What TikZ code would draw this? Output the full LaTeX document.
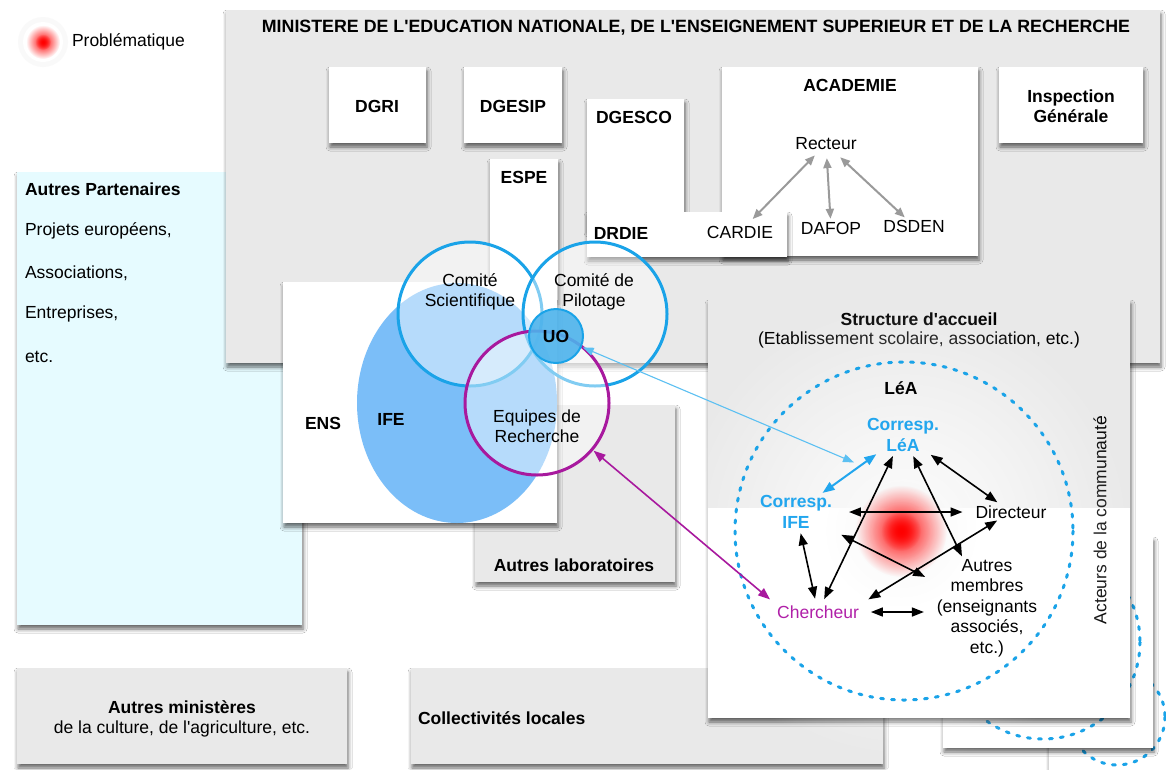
\documentclass[tikz,border=0pt]{standalone}
\usepackage{fontspec}
\setmainfont{Liberation Sans}[Ligatures=TeXOff]
\usetikzlibrary{arrows.meta,shadows.blur,fadings}
\definecolor{boxgray}{HTML}{E9E9E9}
\definecolor{partcyan}{HTML}{E6FBFF}
\definecolor{cblue}{HTML}{1AA3E8}
\definecolor{tblue}{HTML}{22A6EE}
\definecolor{lblue}{HTML}{5CC0F2}
\definecolor{cpurple}{HTML}{A8199E}
\definecolor{tpurple}{HTML}{B020A8}
\definecolor{ifeblue}{HTML}{7BBEF8}
\definecolor{uoblue}{HTML}{4DB3EC}
\definecolor{arrgray}{HTML}{9A9A9A}
\tikzfading[name=glowfade, inner color=transparent!0, outer color=transparent!100]
\begin{document}
\begin{tikzpicture}[x=1pt,y=-1pt,
  every node/.style={font=\fontsize{17.5}{20.5}\selectfont, inner sep=1pt, outer sep=0pt},
  box/.style={fill=white, inner sep=0pt, outer sep=0pt, anchor=north west,
    blur shadow={shadow xshift=1pt, shadow yshift=-4pt, shadow blur radius=4pt, shadow opacity=60}},
  graybox/.style={box, fill=boxgray},
  lbl/.style={font=\fontsize{17.5}{20.5}\selectfont\bfseries},
  ctext/.style={align=center},
  ldash/.style={draw=cblue, line width=3pt, line cap=round, dash pattern=on 3pt off 8pt},
  ring/.style={circle, draw=cblue, line width=3pt, fill=white, fill opacity=0.45, minimum size=144pt, inner sep=0pt},
  garr/.style={draw=arrgray, line width=2pt, {Triangle[length=10pt,width=8pt]}-{Triangle[length=10pt,width=8pt]}},
  dblk/.style={line width=1.6pt, {Triangle[length=12pt,width=9pt]}-{Triangle[length=12pt,width=9pt]}},
  dblue/.style={draw=tblue, line width=2pt, {Triangle[length=12pt,width=9pt]}-{Triangle[length=12pt,width=9pt]}},
  thinblue/.style={draw=lblue, line width=1.1pt, {Triangle[length=11pt,width=8pt]}-{Triangle[length=11pt,width=8pt]}},
  purarr/.style={draw=cpurple, line width=1.6pt, {Triangle[length=12pt,width=9pt]}-{Triangle[length=12pt,width=9pt]}}
]
\useasboundingbox (0,0) rectangle (1166,769);
\fill[white] (0,0) rectangle (1166,769);

% legend
\fill[gray!5] (43,42) circle (25);
\fill[white] (43,42) circle (20);
\fill[red, path fading=glowfade] (43,42) circle (17);
\fill[red, path fading=glowfade] (43,42) circle (8);
\node[anchor=west] (legtxt) at (71,42) {Problématique};

% autres partenaires
\node[box, fill=partcyan, minimum width=285pt, minimum height=453pt] (partners) at (17,172) {};
\node[lbl, anchor=west] (parttitle) at (24,189) {Autres Partenaires};
\node[anchor=west] (p1) at (24,231) {Projets européens,};
\node[anchor=west] (p2) at (24,273) {Associations,};
\node[anchor=west] (p3) at (24,314) {Entreprises,};
\node[anchor=west] (p4) at (24,357) {etc.};

% ministere
\node[graybox, minimum width=934pt, minimum height=353pt] (ministry) at (226,10) {};
\node[lbl, font=\fontsize{17.8}{20.5}\selectfont\bfseries] (mintitle) at (696,28) {MINISTERE DE L'EDUCATION NATIONALE, DE L'ENSEIGNEMENT SUPERIEUR ET DE LA RECHERCHE};

\node[box, minimum width=97pt, minimum height=76pt] (dgri) at (329,67) {};
\node[lbl] (dgritxt) at (377,106) {DGRI};
\node[box, minimum width=98pt, minimum height=76pt] (dgesip) at (464,67) {};
\node[lbl] (dgesiptxt) at (513,106) {DGESIP};
\node[box, minimum width=68pt, minimum height=141pt] (espe) at (490,159) {};
\node[lbl] (espetxt) at (524,177) {ESPE};
\node[box, minimum width=97pt, minimum height=130pt] (dgesco) at (587,99) {};
\node[lbl] (dgescotxt) at (634,117) {DGESCO};
\node[box, minimum width=256pt, minimum height=189pt] (academie) at (722,67) {};
\node[lbl] (academietxt) at (850,85) {ACADEMIE};
\node[box, minimum width=200pt, minimum height=45pt] (drdie) at (587,212) {};
\node[lbl] (drdietxt) at (621,233) {DRDIE};
\node (cardie) at (740,232) {CARDIE};
\node (recteur) at (826,144) {Recteur};
\node (dafop) at (831,228) {DAFOP};
\node (dsden) at (914,226) {DSDEN};
\draw[garr, shorten <=6pt, shorten >=8pt] (recteur) -- (cardie);
\draw[garr, shorten <=7pt, shorten >=2pt] (recteur) -- (dafop);
\draw[garr, shorten <=9pt, shorten >=2pt] (recteur) -- (dsden);
\node[box, minimum width=144pt, minimum height=76pt] (insp) at (999,67) {};
\node[lbl, ctext] (insptxt) at (1071,106) {Inspection\\Générale};

% autres laboratoires
\node[graybox, minimum width=200pt, minimum height=177pt] (autlab) at (475,405) {};
\node[lbl] (autlabtxt) at (574,565) {Autres laboratoires};

% bottom boxes
\node[graybox, minimum width=330pt, minimum height=96pt] (autmin) at (17,668) {};
\node[lbl] (autmintxt) at (182,707) {Autres ministères};
\node (autmintxt2) at (182,729) {de la culture, de l'agriculture, etc.};
\node[graybox, minimum width=472pt, minimum height=96pt] (coll) at (411,668) {};
\node[lbl, anchor=west] (colltxt) at (417,718) {Collectivités locales};

% stacked LeA boxes
\node[box, minimum width=150pt, minimum height=160pt] (box3) at (1049,645) {};
\draw[ldash] (1117,717) circle (48);
\node[box, minimum width=210pt, minimum height=211pt] (box2) at (943,537) {};
\draw[ldash] (1043,642) circle (97);

% structure d'accueil
\node[box, minimum width=422pt, minimum height=418pt] (structure) at (708,300) {};
\fill[boxgray] (708,300) rectangle (1130,508);
\node[lbl] (structtxt) at (919,319) {Structure d'accueil};
\node (structtxt2) at (919,340) {(Etablissement scolaire, association, etc.)};
\node[rotate=90] (acteurs) at (1100,520) {Acteurs de la communauté};

% LeA
\fill[white, path fading=glowfade] (904,531) circle (230);
\fill[gray!6, path fading=glowfade] (901,531) circle (75);
\fill[white, path fading=glowfade] (901,531) circle (50);
\fill[red, path fading=glowfade] (901,531) circle (46);
\fill[red, path fading=glowfade] (901,531) circle (20);
\draw[ldash] (904,531) circle (169);
\node[lbl] (leatxt) at (901,388) {LéA};
\node[lbl, ctext, text=tblue] (corlea) at (903,435) {Corresp.\\LéA};
\node[lbl, ctext, text=tblue] (corife) at (796,512) {Corresp.\\IFE};
\node (directeur) at (1011,512) {Directeur};
\node[ctext] (autres) at (987,608) {Autres\\membres\\(enseignants\\associés,\\etc.)};
\node[text=tpurple] (chercheur) at (818,612) {Chercheur};

% ENS / IFE
\node[box, minimum width=274pt, minimum height=241pt] (ens) at (283,282) {};
\node[lbl] (enstxt) at (323,423) {ENS};
\fill[ifeblue] (457,403) ellipse [x radius=100, y radius=120];
\node[lbl] (ifetxt) at (391,419) {IFE};
\node[ring] (comsci) at (470,314) {};
\node[ring] (compil) at (595,314) {};
\node[ring, draw=cpurple] (eqrech) at (537,403) {};
\node[ctext] (comscitxt) at (470,292) {Comité\\Scientifique};
\node[ctext] (compiltxt) at (594,292) {Comité de\\Pilotage};
\node[ctext] (eqrechtxt) at (537,426) {Equipes de\\Recherche};
\node[circle, draw=cblue, line width=2pt, fill=uoblue, fill opacity=0.9, text opacity=1, minimum size=54pt, inner sep=0pt, lbl] (uo) at (556,336) {UO};

% connectors
\draw[thinblue, shorten <=2pt] (uo) -- ([xshift=-12pt,yshift=-10pt]corlea.south west);
\draw[purarr, shorten <=2pt, shorten >=8pt] (eqrech) -- (chercheur.north west);
\draw[dblue, shorten <=3pt, shorten >=3pt] (corlea) -- (corife);
\draw[dblk, shorten <=4pt, shorten >=4pt] (corlea) -- (directeur);
\draw[dblk, shorten <=4pt, shorten >=6pt] (corife) -- (chercheur);
\draw[dblk, shorten <=6pt, shorten >=4pt] (chercheur) -- (corlea);
\draw[dblk, shorten <=4pt, shorten >=2pt] (corlea) -- (autres);
\draw[dblk, shorten <=16pt, shorten >=12pt] (corife) -- (directeur);
\draw[dblk, shorten <=12pt, shorten >=12pt] (corife) -- (autres);
\draw[dblk, shorten <=10pt, shorten >=2pt] (chercheur.north east) -- (directeur);
\draw[dblk, shorten <=11pt, shorten >=12pt] (chercheur.east) -- (chercheur.east -| autres.west);
\end{tikzpicture}
\end{document}
